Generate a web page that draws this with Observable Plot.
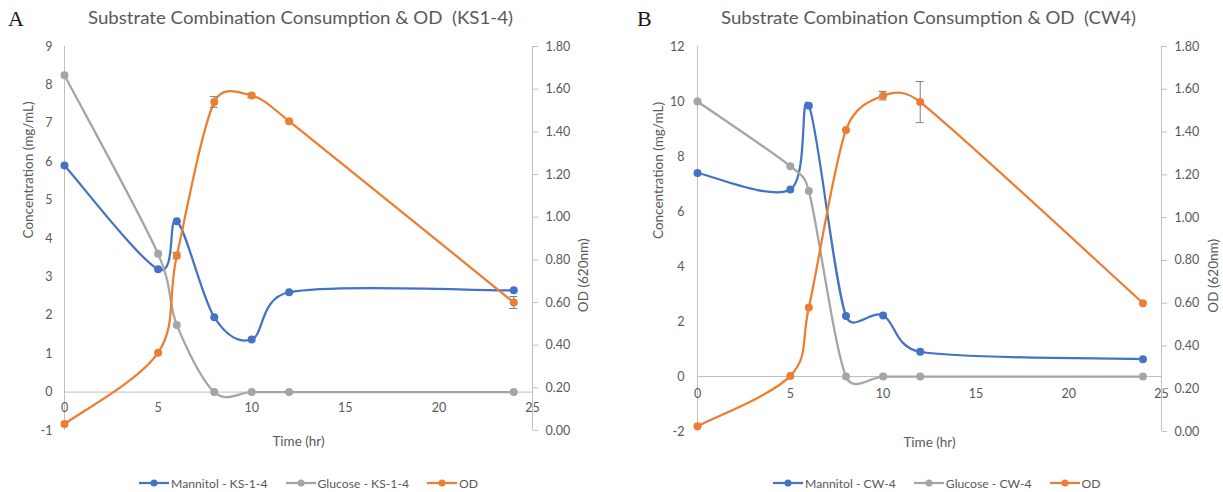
<!DOCTYPE html>
<html><head><meta charset="utf-8">
<script src="https://cdn.jsdelivr.net/npm/d3@7"></script>
<script src="https://cdn.jsdelivr.net/npm/@observablehq/plot@0.6"></script>
<style>
html,body{margin:0;padding:0;background:#fff;}
#root{position:relative;width:1223px;height:492px;overflow:hidden;background:#fff;font-family:Lato,"Open Sans",sans-serif;}
.layer{position:absolute;top:0;}
.legend{position:absolute;top:475px;height:16px;display:flex;align-items:center;font-size:12.2px;color:#595959;white-space:nowrap;}
.item{display:flex;align-items:center;margin-right:18px;}
.item svg{margin-right:2px;}
#titles{position:absolute;left:0;top:0;}
</style></head><body><div id="root"></div>
<script>
// ---- data ----
const time = [0, 5, 6, 8, 10, 12, 24];
const xTicks = [0, 5, 10, 15, 20, 25];
const odTicks = [0, 0.2, 0.4, 0.6, 0.8, 1.0, 1.2, 1.4, 1.6, 1.8];

const mannitolA = [5.9, 3.2, 4.45, 1.95, 1.37, 2.6, 2.65];
const glucoseA  = [8.25, 3.6, 1.75, 0, 0, 0, 0];
const odA       = [0.03, 0.365, 0.82, 1.54, 1.57, 1.45, 0.6];
const odErrA    = [0, 0, 0.015, 0.025, 0.01, 0, 0.028];
const yTicksA   = [-1, 0, 1, 2, 3, 4, 5, 6, 7, 8, 9];

const mannitolB = [7.4, 6.8, 9.85, 2.2, 2.22, 0.9, 0.63];
const glucoseB  = [10, 7.65, 6.75, 0, 0, 0, 0];
const odB       = [0.025, 0.26, 0.58, 1.41, 1.57, 1.54, 0.6];
const odErrB    = [0, 0, 0, 0, 0.02, 0.096, 0];
const yTicksB   = [-2, 0, 2, 4, 6, 8, 10, 12];

const titles = ["Substrate Combination Consumption & OD  (KS1-4)", "Substrate Combination Consumption & OD  (CW4)"];
const legendA = ["Mannitol - KS-1-4", "Glucose - KS-1-4", "OD"];
const legendB = ["Mannitol - CW-4", "Glucose - CW-4", "OD"];

const C_M = "#4472C4", C_G = "#A5A5A5", C_OD = "#ED7D31";
const TXT = "#595959", AX = "#BFBFBF";

// Spreadsheet-style smoothed line: Bezier with 1/6 tangents, limited to half the segment length
function SmoothCurve(context) { this._context = context; }
SmoothCurve.prototype = {
  areaStart() {}, areaEnd() {},
  lineStart() { this._pts = []; },
  point(x, y) { this._pts.push([+x, +y]); },
  lineEnd() {
    const p = this._pts, n = p.length, c = this._context;
    if (!n) return;
    c.moveTo(p[0][0], p[0][1]);
    const dist = (a, b) => Math.hypot(b[0] - a[0], b[1] - a[1]);
    for (let i = 0; i < n - 1; i++) {
      const P0 = p[Math.max(i - 1, 0)], P1 = p[i], P2 = p[i + 1], P3 = p[Math.min(i + 2, n - 1)];
      const d12 = dist(P1, P2), d02 = dist(P0, P2), d13 = dist(P1, P3);
      const f0 = d02 > 0 ? Math.min(1 / 6, d12 / (2 * d02)) : 0;
      const f1 = d13 > 0 ? Math.min(1 / 6, d12 / (2 * d13)) : 0;
      c.bezierCurveTo(
        P1[0] + f0 * (P2[0] - P0[0]), P1[1] + f0 * (P2[1] - P0[1]),
        P2[0] - f1 * (P3[0] - P1[0]), P2[1] - f1 * (P3[1] - P1[1]),
        P2[0], P2[1]);
    }
  }
};
const smooth = (context) => new SmoothCurve(context);

const root = document.getElementById("root");

function panel(o) {
  const rows = time.map((t, i) => ({t, m: o.mannitol[i], g: o.glucose[i], od: o.od[i], e: o.err[i]}));
  const errRows = rows.filter(d => d.e > 0);
  const common = {
    width: o.width, height: 492,
    marginTop: o.mt, marginBottom: o.mb, marginLeft: o.ml, marginRight: o.mr,
    x: {domain: [0, 25], axis: null},
    style: {fontFamily: "Lato, 'Open Sans', sans-serif", fontSize: "12.5px", color: TXT, background: "transparent", overflow: "visible"}
  };
  const base = Plot.plot({
    ...common,
    y: {domain: [o.yTicks[0], o.yTicks[o.yTicks.length - 1]]},
    marks: [
      Plot.ruleX([0], {stroke: AX}),
      Plot.ruleY([0], {stroke: AX}),
      Plot.axisY(o.yTicks, {tickSize: 0, tickPadding: o.lpad, fill: TXT, label: null, tickFormat: d => String(d)}),
      Plot.text(xTicks, {x: d => d, y: 0, dy: o.xdy, fill: TXT, fontSize: 12.5, text: d => String(d)}),
      Plot.text(["Concentration (mg/mL)"], {frameAnchor: "left", dx: o.ldx, rotate: -90, fill: TXT, fontSize: 13.5}),
      Plot.text(["Time (hr)"], {frameAnchor: "bottom", dy: 15, fill: TXT, fontSize: 13.5}),
      Plot.line(rows, {x: "t", y: "m", stroke: C_M, strokeWidth: 2.25, curve: smooth}),
      Plot.dot(rows, {x: "t", y: "m", r: 4, fill: C_M}),
      Plot.line(rows, {x: "t", y: "g", stroke: C_G, strokeWidth: 2.25, curve: smooth}),
      Plot.dot(rows, {x: "t", y: "g", r: 4, fill: C_G})
    ]
  });
  const over = Plot.plot({
    ...common,
    y: {domain: [0, 1.8]},
    marks: [
      Plot.ruleX([25], {stroke: AX}),
      Plot.axisY(odTicks, {anchor: "right", tickSize: 5, tickPadding: 8, stroke: AX, fill: TXT, label: null, tickFormat: d => d.toFixed(2)}),
      Plot.text(["OD (620nm)"], {frameAnchor: "right", dx: o.rdx, rotate: -90, fill: TXT, fontSize: 13.5}),
      Plot.line(rows, {x: "t", y: "od", stroke: C_OD, strokeWidth: 2.25, curve: smooth}),
      Plot.ruleX(errRows, {x: "t", y1: d => d.od - d.e, y2: d => d.od + d.e, stroke: "#7F7F7F"}),
      Plot.ruleY(errRows, {x1: "t", x2: "t", y: d => d.od + d.e, insetLeft: -4, insetRight: -4, stroke: "#7F7F7F"}),
      Plot.ruleY(errRows, {x1: "t", x2: "t", y: d => d.od - d.e, insetLeft: -4, insetRight: -4, stroke: "#7F7F7F"}),
      Plot.dot(rows, {x: "t", y: "od", r: 4, fill: C_OD})
    ]
  });
  for (const svg of [base, over]) {
    svg.classList.add("layer");
    svg.style.left = o.left + "px";
    root.appendChild(svg);
  }
  // legend
  const lg = document.createElement("div");
  lg.className = "legend";
  lg.style.left = o.legendLeft + "px";
  const cols = [C_M, C_G, C_OD];
  o.legend.forEach((name, i) => {
    const it = document.createElement("div");
    it.className = "item";
    it.innerHTML = `<svg width="30" height="10"><line x1="0" x2="30" y1="5" y2="5" stroke="${cols[i]}" stroke-width="2.25"/><circle cx="15" cy="5" r="3.5" fill="${cols[i]}"/></svg><span>${name}</span>`;
    lg.appendChild(it);
  });
  root.appendChild(lg);
}

panel({left: 0, width: 611, ml: 64, mr: 79, mt: 46, mb: 62, yTicks: yTicksA, lpad: 12, xdy: 16, ldx: -36, rdx: 51,
  mannitol: mannitolA, glucose: glucoseA, od: odA, err: odErrA, legend: legendA, legendLeft: 139});
panel({left: 611, width: 612, ml: 86, mr: 62, mt: 46, mb: 61, yTicks: yTicksB, lpad: 13, xdy: 17, ldx: -39, rdx: 52,
  mannitol: mannitolB, glucose: glucoseB, od: odB, err: odErrB, legend: legendB, legendLeft: 773});

// titles and panel letters
const ns = "http://www.w3.org/2000/svg";
const tsvg = document.createElementNS(ns, "svg");
tsvg.setAttribute("id", "titles");
tsvg.setAttribute("width", 1223);
tsvg.setAttribute("height", 40);
const specs = [
  {letter: "A", lx: 8, tx: 88, tw: 425, title: titles[0]},
  {letter: "B", lx: 637, tx: 721, tw: 415, title: titles[1]}
];
for (const s of specs) {
  const l = document.createElementNS(ns, "text");
  l.setAttribute("x", s.lx); l.setAttribute("y", 26);
  l.setAttribute("font-family", "'Liberation Serif', 'DejaVu Serif', serif");
  l.setAttribute("font-size", 22); l.setAttribute("fill", "#1a1a1a");
  l.textContent = s.letter;
  tsvg.appendChild(l);
  const t = document.createElementNS(ns, "text");
  t.setAttribute("x", s.tx); t.setAttribute("y", 24);
  t.setAttribute("font-family", "Lato, 'Open Sans', sans-serif");
  t.setAttribute("font-size", 17); t.setAttribute("fill", TXT);
  t.setAttribute("textLength", s.tw); t.setAttribute("lengthAdjust", "spacingAndGlyphs");
  t.setAttribute("xml:space", "preserve");
  t.style.whiteSpace = "pre";
  t.textContent = s.title;
  tsvg.appendChild(t);
}
root.appendChild(tsvg);
</script></body></html>
